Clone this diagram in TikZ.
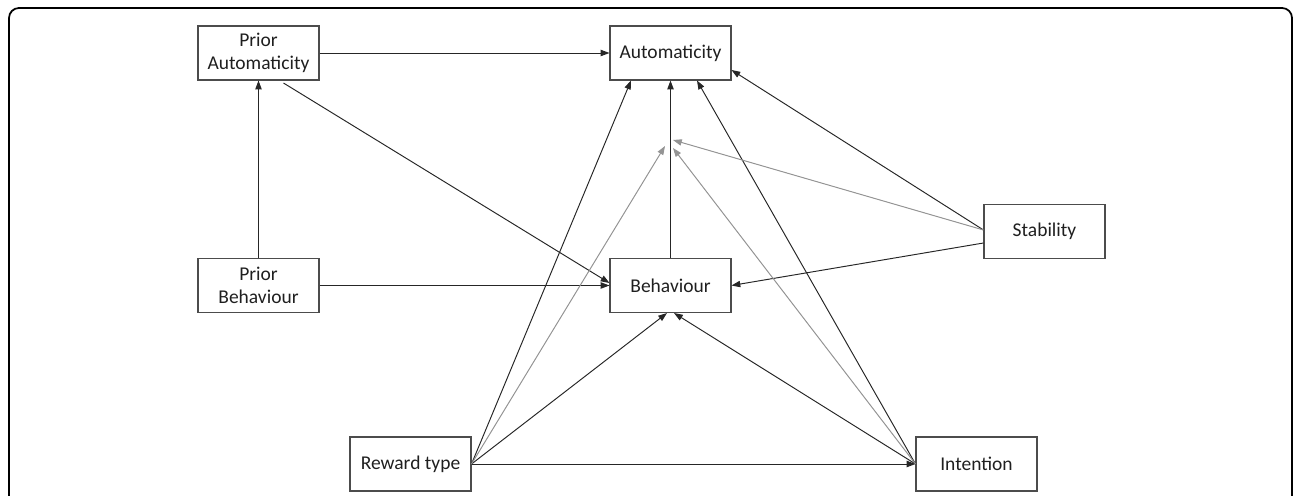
\documentclass[tikz,border=0pt]{standalone}
\usepackage{fontspec}
\setmainfont{Carlito}
\usetikzlibrary{arrows.meta}

\begin{document}
\begin{tikzpicture}[x=0.02cm,y=-0.02cm,
    box/.style={draw=black!70,line width=0.6pt,minimum width=2.42cm,minimum height=1.08cm,
        align=center,inner sep=1pt,text=black!88,font=\fontsize{11.1}{13}\selectfont},
    arr/.style={draw=black!85,line width=0.55pt,-{Triangle[length=5pt,width=3.6pt]}},
    modarr/.style={arr,draw=black!42,fill=black!42}]
                \useasboundingbox (0,0) rectangle (1295,496);
                \draw[line width=1pt,rounded corners=0.2cm] (9,496) -- (9,8) -- (1292,8) -- (1292,496);

                \node[box] (pauto) at (258.5,53) {Prior\\Automaticity};
                \node[box] (auto) at (670.5,53) {Automaticity};
                \node[box] (pbeh) at (258.5,285.5) {Prior\\Behaviour};
                \node[box] (beh) at (670.5,285.5) {Behaviour};
                \node[box] (stab) at (1044.5,231.5) {Stability};
                \node[box] (rew) at (410.5,464) {Reward type};
                \node[box] (int) at (976.5,464) {Intention};

                \coordinate (ms) at (673,140);
                \coordinate (mr) at (665,146);
                \coordinate (mi) at (673,148);

                \draw[arr] (pauto)--(auto);
                \draw[arr] (pbeh)--(pauto);
                \draw[arr] ([xshift=0.5cm,yshift=-0.05cm]pauto.south)--([yshift=0.05cm]beh.west);
                \draw[arr] (pbeh)--(beh);
                \draw[arr] (beh)--(auto);
                \draw[arr] ([yshift=0.03cm]stab.west)--([yshift=-0.34cm]auto.east);
                \draw[arr] ([yshift=-0.23cm]stab.west)--(beh.east);
                \draw[arr] (rew.east)--([xshift=-0.79cm]auto.south);
                \draw[arr] (rew.east)--([xshift=-0.07cm]beh.south);
                \draw[arr] (rew)--(int);
                \draw[arr] (int.west)--([xshift=0.53cm]auto.south);
                \draw[arr] (int.west)--([xshift=0.07cm]beh.south);

                \draw[modarr] ([yshift=0.03cm]stab.west)--(ms);
                \draw[modarr] (rew.east)--(mr);
                \draw[modarr] (int.west)--(mi);
    \end{tikzpicture}
\end{document}
